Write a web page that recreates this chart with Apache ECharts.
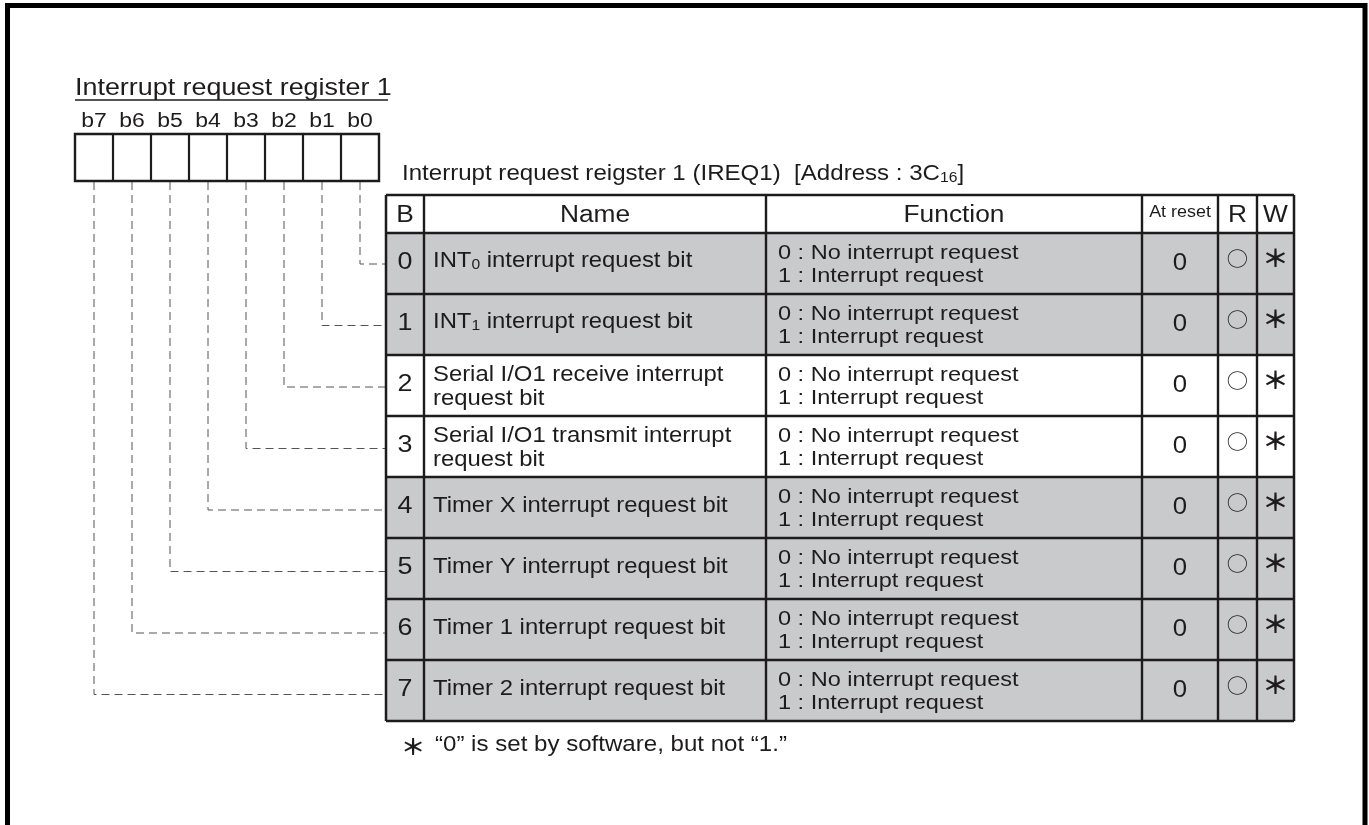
<!DOCTYPE html>
<html><head><meta charset="utf-8">
<script src="https://cdn.jsdelivr.net/npm/echarts@6/dist/echarts.min.js"></script>
<style>html,body{margin:0;padding:0;background:#fff}#c{width:1369px;height:825px}</style>
</head><body><div id="c"></div>
<script>
// ---------- data ----------
const registerTitle = 'Interrupt request register 1';
const bitLabels = ['b7', 'b6', 'b5', 'b4', 'b3', 'b2', 'b1', 'b0'];
const tableTitle = ['Interrupt request reigster 1 (IREQ1)  [Address : 3C', '16', ']'];
const headers = ['B', 'Name', 'Function', 'At reset', 'R', 'W'];
const bitNumbers = ['0', '1', '2', '3', '4', '5', '6', '7'];
const names = [
  ['INT', '0', ' interrupt request bit'],
  ['INT', '1', ' interrupt request bit'],
  ['Serial I/O1 receive interrupt\nrequest bit'],
  ['Serial I/O1 transmit interrupt\nrequest bit'],
  ['Timer X interrupt request bit'],
  ['Timer Y interrupt request bit'],
  ['Timer 1 interrupt request bit'],
  ['Timer 2 interrupt request bit']
];
const functionLine0 = ['0 : No interrupt request', '0 : No interrupt request', '0 : No interrupt request', '0 : No interrupt request',
  '0 : No interrupt request', '0 : No interrupt request', '0 : No interrupt request', '0 : No interrupt request'];
const functionLine1 = ['1 : Interrupt request', '1 : Interrupt request', '1 : Interrupt request', '1 : Interrupt request',
  '1 : Interrupt request', '1 : Interrupt request', '1 : Interrupt request', '1 : Interrupt request'];
const resetValues = ['0', '0', '0', '0', '0', '0', '0', '0'];
const readMarks = ['○', '○', '○', '○', '○', '○', '○', '○'];
const writeMarks = ['＊', '＊', '＊', '＊', '＊', '＊', '＊', '＊'];
const shadedRows = [true, true, false, false, true, true, true, true];
const footnoteMark = '＊';
const footnoteText = '“0” is set by software, but not “1.”';

// ---------- layout ----------
const SX = 1.12;
const FONT = '"Liberation Sans", Arial, Helvetica, sans-serif';
const SYM = '"Noto Sans CJK JP", "DejaVu Sans", sans-serif';
const INK = '#1e1b1c';
const GRAY = '#c9cacc';
const BOX = { x: 75, y: 134, cell: 38, h: 47 };
const COLS = [386, 424, 766, 1142, 1218, 1257, 1294];
const HEAD_TOP = 195, HEAD_BOT = 233, ROW_H = 61;

const g = [];
function txt(x, y, text, size, opts) {
  return { type: 'text', x: x, y: y, scaleX: SX, silent: true, z: 20,
    style: Object.assign({ text: text, fontSize: size, fontFamily: FONT, fill: INK, align: 'left', verticalAlign: 'middle' }, opts || {}) };
}
function line(x1, y1, x2, y2, w, z, opts) {
  return { type: 'line', silent: true, z: z || 10, shape: { x1: x1, y1: y1, x2: x2, y2: y2 },
    style: Object.assign({ stroke: INK, lineWidth: w }, opts || {}) };
}

// outer frame
g.push({ type: 'rect', silent: true, z: 30, shape: { x: 7.5, y: 5.5, width: 1357.5, height: 840 },
  style: { fill: 'none', stroke: '#000', lineWidth: 5 } });

// register title + underline
g.push(txt(BOX.x, 88, registerTitle, 24));
g.push(line(BOX.x, 100, 388, 100, 1.5));

// register bit boxes and labels
for (let i = 0; i < bitLabels.length; i++) {
  const cx = BOX.x + BOX.cell * i + BOX.cell / 2;
  g.push(txt(cx, 121, bitLabels[i], 20.5, { align: 'center' }));
}
g.push({ type: 'rect', silent: true, z: 12, shape: { x: BOX.x, y: BOX.y, width: BOX.cell * 8, height: BOX.h },
  style: { fill: '#fff', stroke: INK, lineWidth: 2.4 } });
for (let i = 1; i < 8; i++) {
  g.push(line(BOX.x + BOX.cell * i, BOX.y, BOX.x + BOX.cell * i, BOX.y + BOX.h, 2.2, 13));
}

// table title
g.push(txt(402, 173, '{a|' + tableTitle[0] + '}{s|' + tableTitle[1] + '}{a|' + tableTitle[2] + '}', 21.5, {
  rich: { a: { fontSize: 21.5, fontFamily: FONT, fill: INK, verticalAlign: 'bottom', lineHeight: 24 },
          s: { fontSize: 14, fontFamily: FONT, fill: INK, verticalAlign: 'bottom', lineHeight: 19 } } }));

// shaded rows
for (let r = 0; r < bitNumbers.length; r++) {
  if (shadedRows[r]) {
    g.push({ type: 'rect', silent: true, z: 5,
      shape: { x: COLS[0], y: HEAD_BOT + r * ROW_H, width: COLS[6] - COLS[0], height: ROW_H },
      style: { fill: GRAY } });
  }
}

// headers
const mid = (a, b) => (a + b) / 2;
const headY = 216;
g.push(txt(mid(COLS[0], COLS[1]), headY, headers[0], 23.5, { align: 'center' }));
g.push(txt(mid(COLS[1], COLS[2]), headY, headers[1], 23.5, { align: 'center' }));
g.push(txt(mid(COLS[2], COLS[3]), headY, headers[2], 23.5, { align: 'center' }));
g.push(txt(mid(COLS[3], COLS[4]), 213, headers[3], 16, { align: 'center' }));
g.push(txt(mid(COLS[4], COLS[5]), headY, headers[4], 23.5, { align: 'center' }));
g.push(txt(mid(COLS[5], COLS[6]), headY, headers[5], 23.5, { align: 'center' }));

// rows
const richName = {
  a: { fontSize: 21.3, fontFamily: FONT, fill: INK, verticalAlign: 'bottom', lineHeight: 24 },
  s: { fontSize: 14, fontFamily: FONT, fill: INK, verticalAlign: 'bottom', lineHeight: 21 }
};
for (let r = 0; r < bitNumbers.length; r++) {
  const top = HEAD_BOT + r * ROW_H;
  g.push(txt(mid(COLS[0], COLS[1]), top + 29, bitNumbers[r], 24, { align: 'center' }));
  const nm = names[r];
  if (nm.length === 3) {
    g.push(txt(COLS[1] + 9, top + 27, '{a|' + nm[0] + '}{s|' + nm[1] + '}{a|' + nm[2] + '}', 21.3, { rich: richName }));
  } else if (nm[0].indexOf('\n') >= 0) {
    g.push(txt(COLS[1] + 9, top + 32, nm[0], 21.3, { lineHeight: 24 }));
  } else {
    g.push(txt(COLS[1] + 9, top + 29, nm[0], 21.3));
  }
  g.push(txt(COLS[2] + 12, top + 32, functionLine0[r] + '\n' + functionLine1[r], 21, { lineHeight: 23 }));
  g.push(txt(mid(COLS[3], COLS[4]), top + 31, resetValues[r], 23, { align: 'center' }));
  g.push(txt(mid(COLS[4], COLS[5]), top + 26, readMarks[r], 19, { align: 'center', fontFamily: SYM }));
  g.push(txt(mid(COLS[5], COLS[6]), top + 25, writeMarks[r], 24, { align: 'center', fontFamily: SYM, fontWeight: 'bold' }));

  // dashed leader from register bit to row
  const bx = BOX.x + BOX.cell * (7 - r) + BOX.cell / 2;
  const ly = top + 31 + r * 0.5;
  g.push({ type: 'polyline', silent: true, z: 8,
    shape: { points: [[bx, BOX.y + BOX.h + 1], [bx, ly], [COLS[0], ly]] },
    style: { fill: 'none', stroke: '#555', lineWidth: 1, lineDash: [8, 5] } });
}

// table grid
const tableBot = HEAD_BOT + ROW_H * bitNumbers.length;
g.push(line(COLS[0], HEAD_TOP, COLS[6], HEAD_TOP, 2.5));
g.push(line(COLS[0], HEAD_BOT, COLS[6], HEAD_BOT, 2.4));
for (let r = 1; r < bitNumbers.length; r++) {
  g.push(line(COLS[0], HEAD_BOT + r * ROW_H, COLS[6], HEAD_BOT + r * ROW_H, 2.4));
}
g.push(line(COLS[0], tableBot, COLS[6], tableBot, 2.5));
for (let c = 0; c < COLS.length; c++) {
  const w = (c === 0 || c === COLS.length - 1) ? 2.5 : 2.4;
  g.push(line(COLS[c], HEAD_TOP, COLS[c], tableBot, w));
}

// footnote
g.push(txt(413, 747, footnoteMark, 22, { align: 'center', fontFamily: SYM, fontWeight: 'bold' }));
g.push(txt(435, 745, footnoteText, 21.5));

const chart = echarts.init(document.getElementById('c'), null, { renderer: 'canvas' });
chart.setOption({ backgroundColor: '#fff', animation: false, graphic: { elements: g } });
</script>
</body></html>
